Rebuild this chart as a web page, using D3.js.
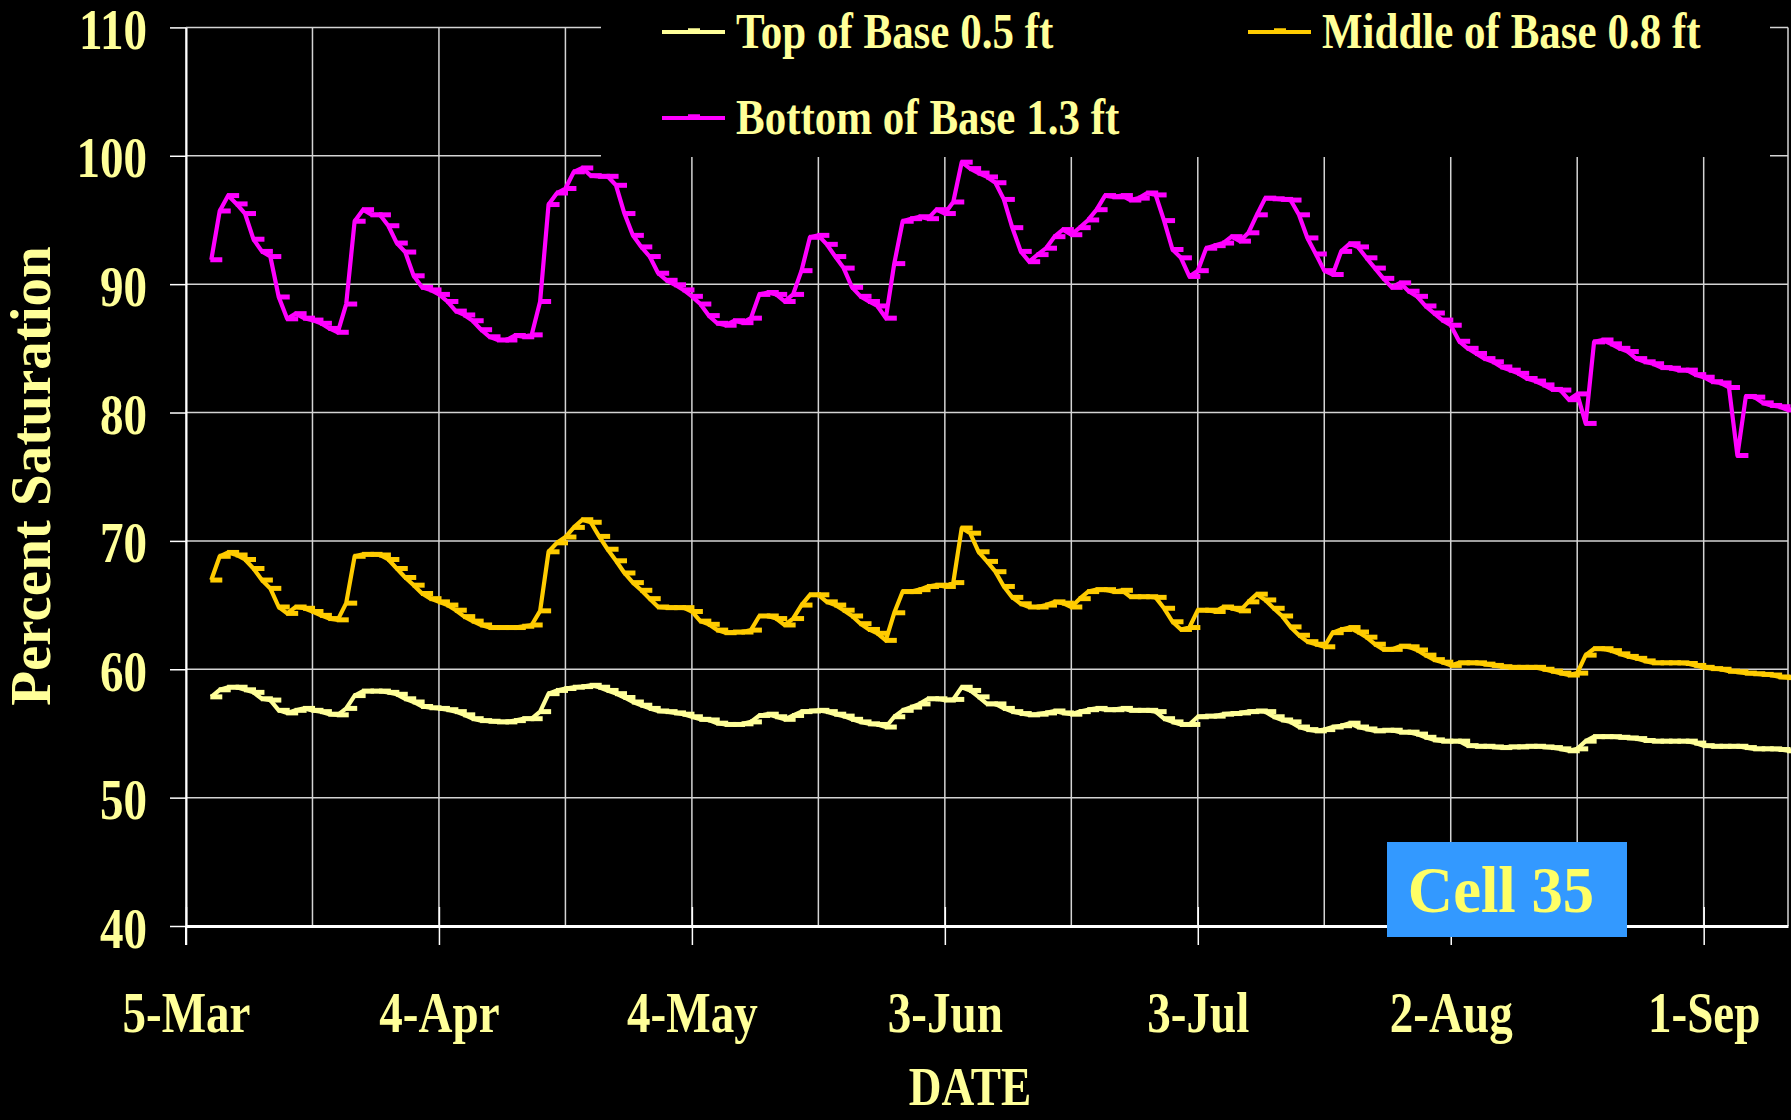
<!DOCTYPE html>
<html>
<head>
<meta charset="utf-8">
<script src="https://cdn.jsdelivr.net/npm/d3@7"></script>
<style>
  body { margin: 0; background: #000; }
  svg { display: block; }
  text { font-family: "Liberation Serif", "Times New Roman", serif; font-weight: bold; fill: #ffff99; }
</style>
</head>
<body>
<svg id="chart"></svg>
<script>
let width = 1791, height = 1120;
let plot = {left: 186, right: 1788, top: 27.4, bottom: 926};
let squeeze = 0.84; // text in the original is narrowed

// daily readings, first reading on 8-Mar
let firstDay = "2007-03-08";
let seriesNames = ["Top of Base 0.5 ft", "Middle of Base 0.8 ft", "Bottom of Base 1.3 ft"];
let seriesColors = ["#ffff99", "#ffcc00", "#ff00ff"];

let topBase = [
  57.85, 58.4, 58.6, 58.6, 58.4, 58.2, 57.7, 57.6, 56.8, 56.6,
  56.8, 56.95, 56.8, 56.7, 56.5, 56.45, 56.95, 57.95, 58.3, 58.3,
  58.3, 58.2, 58.05, 57.7, 57.45, 57.1, 57.0, 56.95, 56.85, 56.7,
  56.45, 56.15, 56.0, 55.95, 55.9, 55.9, 56.0, 56.15, 56.15, 56.7,
  58.1, 58.35, 58.5, 58.6, 58.65, 58.75, 58.6, 58.35, 58.1, 57.8,
  57.45, 57.2, 56.95, 56.75, 56.7, 56.6, 56.5, 56.3, 56.1, 56.05,
  55.8, 55.7, 55.7, 55.75, 55.9, 56.4, 56.5, 56.3, 56.1, 56.4,
  56.7, 56.75, 56.8, 56.7, 56.5, 56.35, 56.1, 55.9, 55.75, 55.7,
  55.5, 56.3, 56.8, 57.05, 57.3, 57.7, 57.7, 57.6, 57.65, 58.6,
  58.35, 57.85, 57.3, 57.3, 56.95, 56.7, 56.55, 56.45, 56.5, 56.6,
  56.75, 56.6, 56.5, 56.7, 56.85, 56.95, 56.85, 56.85, 56.95, 56.8,
  56.8, 56.8, 56.7, 56.15, 55.9, 55.7, 55.7, 56.3, 56.35, 56.35,
  56.5, 56.55, 56.6, 56.7, 56.75, 56.7, 56.3, 56.05, 55.9, 55.5,
  55.3, 55.2, 55.3, 55.5, 55.6, 55.8, 55.5, 55.35, 55.2, 55.25,
  55.25, 55.1, 55.1, 54.95, 54.7, 54.5, 54.4, 54.4, 54.4, 54.05,
  54.0, 54.0, 53.95, 53.9, 53.95, 53.95, 54.0, 54.0, 53.95, 53.9,
  53.8, 53.65, 53.8, 54.4, 54.75, 54.75, 54.75, 54.7, 54.65, 54.6,
  54.45, 54.4, 54.4, 54.4, 54.4, 54.4, 54.25, 54.05, 54.0, 54.0,
  54.0, 54.0, 53.9, 53.8, 53.8, 53.8, 53.75, 53.65
];

let middleBase = [
  66.95, 68.8, 69.1, 68.9, 68.55, 67.85, 66.95, 66.3, 64.85, 64.35,
  64.85, 64.75, 64.5, 64.2, 63.95, 63.85, 65.15, 68.8, 68.95, 68.95,
  68.9, 68.55, 67.85, 67.15, 66.55, 65.9, 65.5, 65.25, 65.0, 64.6,
  64.1, 63.75, 63.45, 63.25, 63.25, 63.25, 63.25, 63.35, 63.45, 64.55,
  69.15, 69.85, 70.3, 71.05, 71.65, 71.45, 70.35, 69.35, 68.45, 67.5,
  66.75, 66.15, 65.5, 64.85, 64.8, 64.8, 64.8, 64.5, 63.75, 63.5,
  63.05, 62.85, 62.9, 62.9, 63.05, 64.15, 64.15, 63.95, 63.45, 63.95,
  65.0, 65.8, 65.8, 65.25, 65.0, 64.6, 64.15, 63.55, 63.1, 62.8,
  62.25, 64.4, 66.05, 66.05, 66.2, 66.45, 66.55, 66.45, 66.75, 71.0,
  70.6, 69.15, 68.4, 67.6, 66.45, 65.6, 65.1, 64.85, 64.85, 65.0,
  65.25, 65.15, 64.85, 65.5, 66.05, 66.2, 66.2, 66.05, 66.15, 65.65,
  65.65, 65.65, 65.6, 64.75, 63.7, 63.1, 63.25, 64.6, 64.6, 64.5,
  64.85, 64.75, 64.55, 65.25, 65.85, 65.4, 64.75, 64.15, 63.3, 62.65,
  62.15, 61.95, 61.75, 62.85, 63.1, 63.25, 62.9, 62.5, 61.95, 61.55,
  61.55, 61.8, 61.75, 61.5, 61.1, 60.75, 60.55, 60.3, 60.5, 60.5,
  60.5, 60.4, 60.3, 60.2, 60.15, 60.15, 60.15, 60.15, 60.0, 59.85,
  59.7, 59.55, 59.7, 61.1, 61.6, 61.6, 61.45, 61.2, 61.0, 60.85,
  60.65, 60.5, 60.5, 60.5, 60.5, 60.45, 60.3, 60.15, 60.05, 60.0,
  59.85, 59.8, 59.7, 59.65, 59.6, 59.55, 59.4, 59.35
];

let bottomBase = [
  91.9, 95.7, 96.9, 96.25, 95.5, 93.5, 92.55, 92.15, 89.0, 87.3,
  87.7, 87.35, 87.2, 86.95, 86.55, 86.25, 88.45, 94.9, 95.8, 95.4,
  95.4, 94.55, 93.2, 92.5, 90.65, 89.75, 89.55, 89.2, 88.65, 87.9,
  87.6, 87.15, 86.45, 85.9, 85.65, 85.65, 86.0, 85.9, 86.05, 88.65,
  96.2, 97.1, 97.45, 98.75, 99.05, 98.45, 98.4, 98.4, 97.7, 95.5,
  93.8, 92.9, 92.15, 90.85, 90.3, 89.95, 89.55, 89.05, 88.45, 87.55,
  86.95, 86.8, 87.15, 87.0, 87.35, 89.2, 89.35, 89.2, 88.65, 89.2,
  91.05, 93.65, 93.8, 93.1, 92.15, 91.25, 89.75, 89.05, 88.65, 88.3,
  87.35, 91.6, 94.9, 95.1, 95.25, 95.1, 95.8, 95.5, 96.4, 99.5,
  99.0, 98.65, 98.35, 97.9, 96.6, 94.4, 92.55, 91.75, 92.3, 92.8,
  93.7, 94.25, 93.85, 94.4, 95.0, 95.8, 96.9, 96.8, 96.9, 96.55,
  96.7, 97.1, 96.95, 94.95, 92.7, 92.05, 90.6, 91.05, 92.8, 93.0,
  93.2, 93.7, 93.35, 94.0, 95.4, 96.7, 96.65, 96.6, 96.55, 95.4,
  93.6, 92.35, 91.05, 90.75, 92.55, 93.15, 92.9, 92.05, 91.25, 90.45,
  89.75, 90.1, 89.45, 89.05, 88.3, 87.75, 87.2, 86.8, 85.55, 85.0,
  84.6, 84.2, 83.95, 83.55, 83.3, 83.05, 82.65, 82.45, 82.15, 81.8,
  81.75, 81.0, 81.45, 79.15, 85.5, 85.65, 85.35, 85.0, 84.75, 84.2,
  83.95, 83.8, 83.5, 83.45, 83.3, 83.3, 82.95, 82.75, 82.4, 82.3,
  81.95, 76.65, 81.25, 81.2, 80.75, 80.55, 80.45, 80.2
];

let yTicks = [40, 50, 60, 70, 80, 90, 100, 110];
let xTickLabels = ["5-Mar", "4-Apr", "4-May", "3-Jun", "3-Jul", "2-Aug", "1-Sep"];
let xStart = "5-Mar", xEnd = "11-Sep";

let parseLabel = (s) => d3.timeParse("%d-%b-%Y")(s + "-2007");
let start = d3.timeParse("%Y-%m-%d")(firstDay);
let seriesList = [topBase, middleBase, bottomBase].map((vals, k) => ({
  name: seriesNames[k],
  color: seriesColors[k],
  points: vals.map((v, i) => ({date: d3.timeDay.offset(start, i), value: v}))
}));

let x = d3.scaleTime()
  .domain([parseLabel(xStart), parseLabel(xEnd)])
  .range([plot.left, plot.right]);
let y = d3.scaleLinear()
  .domain([40, 110])
  .range([plot.bottom, plot.top]);

let svg = d3.select("#chart")
  .attr("width", width)
  .attr("height", height)
  .style("background", "#000");

// gridlines every 15 days, labels every 30
let gridDates = d3.range(0, 190, 15).map(d => d3.timeDay.offset(parseLabel(xStart), d));
let grid = svg.append("g").attr("stroke", "#d4d4d4").attr("stroke-width", 1.5);
grid.selectAll("line.v")
  .data(gridDates)
  .enter().append("line")
  .attr("class", "v")
  .attr("x1", d => x(d)).attr("x2", d => x(d))
  .attr("y1", plot.top).attr("y2", plot.bottom);
grid.selectAll("line.h")
  .data(yTicks)
  .enter().append("line")
  .attr("class", "h")
  .attr("x1", plot.left).attr("x2", plot.right)
  .attr("y1", d => y(d)).attr("y2", d => y(d));
grid.append("line")
  .attr("x1", plot.right).attr("x2", plot.right)
  .attr("y1", plot.top).attr("y2", plot.bottom);

// lines with dash markers
let line = d3.line().x(d => x(d.date)).y(d => y(d.value));
let series = svg.append("g").selectAll("g")
  .data(seriesList)
  .enter().append("g");
series.append("path")
  .attr("d", d => line(d.points))
  .attr("fill", "none")
  .attr("stroke", d => d.color)
  .attr("stroke-width", 4.2)
  .attr("stroke-linejoin", "round");
series.each(function(s) {
  d3.select(this).selectAll("line")
    .data(s.points)
    .enter().append("line")
    .attr("x1", d => x(d.date) - 1).attr("x2", d => x(d.date) + 11)
    .attr("y1", d => y(d.value)).attr("y2", d => y(d.value))
    .attr("stroke", s.color)
    .attr("stroke-width", 5);
});

// axes
let xAxis = svg.append("g")
  .attr("transform", `translate(0,${plot.bottom})`)
  .call(d3.axisBottom(x)
    .tickValues(xTickLabels.map(parseLabel))
    .tickFormat(d3.timeFormat("%-d-%b"))
    .tickSizeInner(19).tickSizeOuter(0));
xAxis.select(".domain").attr("stroke", "#fff").attr("stroke-width", 3);
xAxis.selectAll(".tick line").attr("y1", -19).attr("stroke", "#fff").attr("stroke-width", 1.5);
xAxis.selectAll(".tick text")
  .attr("y", 106).attr("dy", 0)
  .attr("transform", `scale(${squeeze},1)`)
  .attr("font-size", 56)
  .attr("fill", "#ffff99");

let yAxis = svg.append("g")
  .attr("transform", `translate(${plot.left},0)`)
  .call(d3.axisLeft(y)
    .tickValues(yTicks)
    .tickFormat(d3.format("d"))
    .tickSizeInner(16).tickSizeOuter(0));
yAxis.select(".domain").attr("stroke", "#fff").attr("stroke-width", 2);
yAxis.selectAll(".tick line").attr("stroke", "#fff").attr("stroke-width", 1.5);
yAxis.selectAll(".tick text")
  .attr("x", -39 / squeeze).attr("dy", 21)
  .attr("transform", `scale(${squeeze},1)`)
  .attr("font-size", 56)
  .attr("fill", "#ffff99");
yAxis.append("line")
  .attr("x1", 0).attr("x2", 0)
  .attr("y1", plot.bottom).attr("y2", plot.bottom + 19)
  .attr("stroke", "#fff").attr("stroke-width", 2);

// axis titles
svg.append("text")
  .attr("transform", `translate(50,476) rotate(-90)`)
  .attr("text-anchor", "middle")
  .attr("font-size", 57)
  .text("Percent Saturation");
svg.append("text")
  .attr("transform", `translate(970,1105) scale(${squeeze},1)`)
  .attr("text-anchor", "middle")
  .attr("font-size", 54)
  .text("DATE");

// legend
let legend = svg.append("g");
legend.append("rect")
  .attr("x", 601).attr("y", 0)
  .attr("width", 1770 - 601).attr("height", 157)
  .attr("fill", "#000");
let legendPos = [[662, 32], [1248, 32], [662, 118]];
let item = legend.selectAll("g.item")
  .data(seriesList)
  .enter().append("g")
  .attr("class", "item")
  .attr("transform", (d, i) => `translate(${legendPos[i][0]},${legendPos[i][1]})`);
item.append("line")
  .attr("x1", 0).attr("x2", 63)
  .attr("stroke", d => d.color).attr("stroke-width", 4.2);
item.append("line")
  .attr("x1", 26).attr("x2", 38).attr("y1", -1).attr("y2", -1)
  .attr("stroke", d => d.color).attr("stroke-width", 5.5);
item.append("text")
  .attr("transform", `translate(74,16) scale(${squeeze + 0.02},1)`)
  .attr("font-size", 50)
  .text(d => d.name);

// cell label
let cell = svg.append("g");
cell.append("rect")
  .attr("x", 1387).attr("y", 842)
  .attr("width", 240).attr("height", 95)
  .attr("fill", "#3399ff");
cell.append("text")
  .attr("transform", "translate(1501,912) scale(0.95,1)")
  .attr("text-anchor", "middle")
  .attr("font-size", 66)
  .style("fill", "#ffff66")
  .text("Cell 35");
</script>
</body>
</html>
